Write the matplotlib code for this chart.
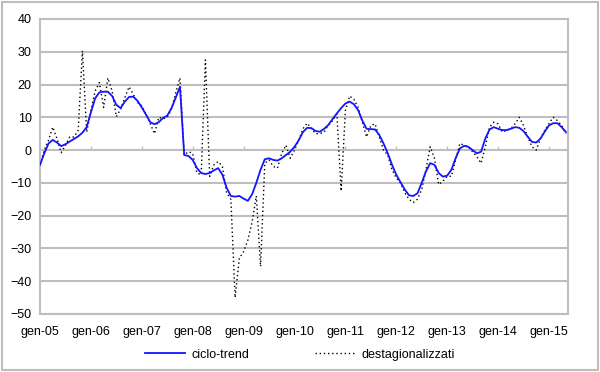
import matplotlib.pyplot as plt
import numpy as np

# monthly data, gen-05 .. mag-15
months = np.arange(125)
tick_pos = np.arange(0, 121, 12)
tick_labels = ["gen-%02d" % y for y in range(5, 16)]

ciclo_trend = [
    -4.5, -1, 2, 3.1, 2.3, 1.2, 1.8, 2.6, 3.4, 4.2, 5.3, 7,
    11.5, 15.8, 17.6, 17.8, 17.8, 16.5, 13.8, 12.8, 14.8, 16.2, 16.3, 15,
    13, 10.8, 8.5, 7.9, 8.5, 9.8, 10.5, 12.8, 16, 19.3, -1.5, -1.8,
    -3, -5.5, -7, -7.3, -7, -6.2, -5.5, -7.5, -11.5, -14, -14.2, -14,
    -14.8, -15.5, -13.5, -10, -6, -2.8, -2.5, -3, -3.2, -2.5, -1.5, -0.5,
    1, 3, 5.5, 6.8, 6.7, 5.8, 5.6, 6.5, 7.7, 9.5, 11.2, 12.8,
    14.2, 14.8, 14, 12.2, 9, 6.5, 6.4, 6.3, 4.6, 2, -1, -4.5,
    -7.5, -9.8, -12, -13.8, -14, -13.2, -10, -6.5, -4, -4.5, -7, -8.1,
    -7.8, -6, -2.5, 0.5, 1.3, 1, 0, -1, -0.5, 3.5, 6.3, 7,
    6.5, 6.1, 6.1, 6.5, 7, 6.8, 5.8, 4.1, 2.5, 2.3, 3.5, 5.6,
    7.5, 8.2, 8.2, 7, 5.5,
]

destagionalizzati = [
    -4.5, 0, 3, 7, 3.5, -0.8, 1.5, 4, 4, 6, 30.3, 5.5,
    12, 18, 20.6, 13, 22, 18, 10.2, 12.5, 16, 19.3, 17, 14.5,
    13.5, 11, 8, 5, 10, 9.5, 10, 12.5, 17.5, 22, -1.5, -0.5,
    -1, -7, -7.5, 27.5, -8, -4.5, -3.5, -5, -13, -15, -45, -33,
    -31, -27.5, -22, -14, -35.5, -4, -3, -5, -5.5, -1, 1.5, -2.5,
    0, 3, 6.5, 8.2, 6.5, 5, 5, 5.5, 7.7, 9, 11, -12.5,
    12, 16.5, 15.5, 13, 8.5, 4, 7.5, 8, 4, 0, -1.5, -6,
    -8.5, -10, -13, -15, -16, -15, -12, -6, 1, -2.5, -10.5, -9.5,
    -8, -8, -3, 2, 1.5, 1, -0.5, -2, -4, 1, 7, 8.5,
    8, 5.5, 6, 6.5, 8, 10, 7.5, 4, 1, 0, 3.5, 6,
    8, 10, 9, 7.5, 5,
]

plt.rcParams["font.family"] = ["Liberation Sans", "DejaVu Sans"]
grey = "#BEBEBE"

fig = plt.figure(figsize=(6, 3.72), dpi=100)
fig.patches.append(plt.Rectangle((0.004, 0.006), 0.992, 0.988, transform=fig.transFigure,
                                 fill=False, ec=grey, lw=1.5))
ax = fig.add_axes([0.0667, 0.156, 0.88, 0.793])

ax.plot(months, ciclo_trend, color="#1414FF", lw=1.3, label="ciclo-trend", zorder=3)
ax.plot(months, destagionalizzati, color="black", lw=1.0, ls=(0, (1, 2)),
        label="destagionalizzati", zorder=2)

ax.set_xlim(0, 124.5)
ax.set_ylim(-50, 40)
ax.set_yticks(range(-50, 41, 10))
ax.set_xticks(tick_pos)
ax.set_xticklabels(tick_labels)
ax.tick_params(axis="both", length=0, labelsize=9, colors="black")
ax.tick_params(axis="y", pad=6)
ax.tick_params(axis="x", pad=9)
ax.grid(axis="y", color=grey, lw=1.5)
ax.set_axisbelow(True)
for s in ax.spines.values():
    s.set_color(grey)
    s.set_linewidth(1.5)

# small tick marks on the zero line
zero = ax.secondary_xaxis(5 / 9)
zero.set_xticks(tick_pos)
zero.tick_params(direction="out", length=3, color=grey, width=1, labelbottom=False,
                 labeltop=False)
zero.spines["bottom"].set_visible(False)
zero.spines["top"].set_visible(False)

fig.legend(loc="lower center", bbox_to_anchor=(0.5, 0.0), ncol=2, frameon=False,
           fontsize=9, handlelength=3.2, columnspacing=5.3, handletextpad=0.5,
           borderaxespad=0.5)

fig.savefig("out.png", dpi=100)
